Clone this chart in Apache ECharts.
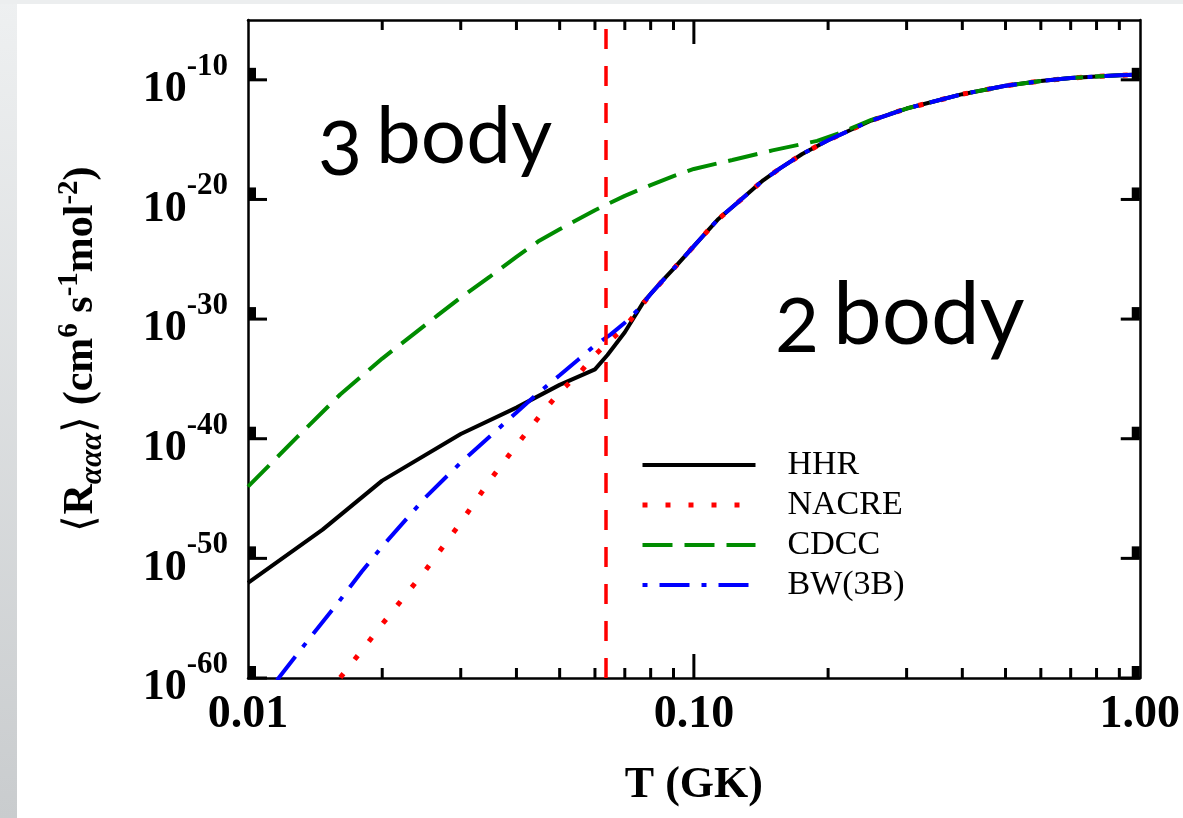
<!DOCTYPE html>
<html>
<head>
<meta charset="utf-8">
<script src="https://cdn.jsdelivr.net/npm/echarts@6/dist/echarts.min.js"></script>
<style>
html,body{margin:0;padding:0;background:#fff;}
#chart{width:1183px;height:818px;}
</style>
</head>
<body>
<div id="chart"></div>
<script>
// temperatures (GK) and log10 of the rate
var hhrT   = [0.01, 0.0147, 0.02, 0.03, 0.04, 0.05, 0.06, 0.064, 0.07, 0.077, 0.084, 0.09, 0.1, 0.113, 0.125, 0.143, 0.156, 0.175, 0.2, 0.25, 0.3, 0.4, 0.5, 0.6, 0.7, 0.8, 0.9, 1.0];
var hhrLog = [-52.05, -47.6, -43.5, -39.6, -37.4, -35.5, -34.2, -33.0, -31.1, -28.6, -27.0, -25.8, -23.9, -21.7, -20.3, -18.4, -17.4, -16.2, -15.05, -13.4, -12.4, -11.2, -10.5, -10.1, -9.85, -9.72, -9.62, -9.55];

var nacreT   = [0.015, 0.016, 0.018, 0.02, 0.025, 0.03, 0.035, 0.04, 0.045, 0.05, 0.055, 0.06, 0.064, 0.07, 0.08, 0.09, 0.1, 0.113, 0.125, 0.143, 0.156, 0.175, 0.2, 0.25, 0.3, 0.4, 0.5, 0.6, 0.7, 0.8, 0.9, 1.0];
var nacreLog = [-61.5, -60.1, -57.7, -55.5, -51.0, -47.0, -43.4, -40.55, -38.15, -36.1, -34.65, -33.0, -32.0, -30.7, -27.9, -25.8, -23.9, -21.7, -20.3, -18.4, -17.4, -16.2, -15.05, -13.4, -12.4, -11.2, -10.5, -10.1, -9.85, -9.72, -9.62, -9.55];

var cdccT   = [0.01, 0.0129, 0.0161, 0.02, 0.0267, 0.03, 0.035, 0.04, 0.045, 0.05, 0.06, 0.07, 0.08, 0.09, 0.1, 0.122, 0.15, 0.189, 0.216, 0.25, 0.3, 0.4, 0.5, 0.6, 0.7, 0.8, 0.9, 1.0];
var cdccLog = [-44.0, -39.85, -36.3, -33.3, -29.65, -28.2, -26.4, -24.8, -23.45, -22.5, -20.9, -19.7, -18.8, -18.05, -17.45, -16.7, -15.9, -15.1, -14.35, -13.35, -12.4, -11.2, -10.5, -10.1, -9.85, -9.72, -9.62, -9.55];

var bwT   = [0.011, 0.012, 0.014, 0.016, 0.018, 0.02, 0.025, 0.03, 0.035, 0.04, 0.045, 0.05, 0.055, 0.06, 0.065, 0.07, 0.075, 0.08, 0.09, 0.1, 0.113, 0.125, 0.143, 0.156, 0.175, 0.2, 0.25, 0.3, 0.4, 0.5, 0.6, 0.7, 0.8, 0.9, 1.0];
var bwLog = [-61.3, -59.5, -56.3, -53.6, -51.1, -49.0, -44.9, -42.0, -39.75, -37.8, -36.1, -34.7, -33.4, -32.2, -31.3, -30.3, -29.2, -27.9, -25.8, -23.9, -21.7, -20.3, -18.4, -17.4, -16.2, -15.05, -13.4, -12.4, -11.2, -10.5, -10.1, -9.85, -9.72, -9.62, -9.55];

var seriesNames = ['HHR', 'NACRE', 'CDCC', 'BW(3B)'];
var boundaryT = 0.0634;

// axis range, tick labels and tick positions
var tRange = [0.01, 1];
var rateRange = [1e-60, 1e-5];
var tLabels = [0.01, 0.1, 1];
var tMajorTicks = [0.1];
var tMinorTicks = [0.02, 0.03, 0.04, 0.05, 0.06, 0.07, 0.08, 0.09, 0.2, 0.3, 0.4, 0.5, 0.6, 0.7, 0.8, 0.9];
var rateTicks = [1e-60, 1e-50, 1e-40, 1e-30, 1e-20, 1e-10];

(function () {
    var serif = '"Liberation Serif", "Times New Roman", serif';
    var tLo = tRange[0], tHi = tRange[1], rLo = rateRange[0], rHi = rateRange[1];

    var styles = {
        'HHR':    { color: '#000',    width: 4, type: 'solid' },
        'NACRE':  { color: '#ff0000', width: 5, type: [5, 18] },
        'CDCC':   { color: '#008c00', width: 4, type: [30, 12] },
        'BW(3B)': { color: '#0000ff', width: 4, type: [5, 12, 30, 12] }
    };

    function pairs(ts, logs) {
        return ts.map(function (t, i) { return [t, Math.pow(10, logs[i])]; });
    }
    function borderLine() {
        return { show: true, onZero: false, lineStyle: { color: '#000', width: 2.5 } };
    }
    function lineSeries(name, ts, logs, extra) {
        var s = styles[name];
        return Object.assign({
            name: name, type: 'line', symbol: 'none', clip: true,
            data: pairs(ts, logs),
            itemStyle: { color: s.color },
            lineStyle: { color: s.color, width: s.width, type: s.type },
            emphasis: { disabled: true }
        }, extra || {});
    }

    var chart = echarts.init(document.getElementById('chart'));

    var option = {
        backgroundColor: '#fff',
        animation: false,
        grid: { left: 248, right: 43, top: 20, bottom: 140, containLabel: false },
        legend: {
            data: seriesNames.map(function (n) {
                var s = styles[n];
                return { name: n, lineStyle: { color: s.color, width: s.width, type: s.type } };
            }),
            orient: 'vertical',
            left: 640,
            top: 447,
            padding: 0,
            itemWidth: 113,
            itemHeight: 14,
            itemGap: 4,
            selectedMode: false,
            itemStyle: { color: 'rgba(0,0,0,0)', borderColor: 'rgba(0,0,0,0)', borderWidth: 0 },
            textStyle: { fontFamily: serif, fontSize: 34, color: '#000', lineHeight: 36, padding: [0, 0, 0, 27] }
        },
        xAxis: [
            {
                type: 'log', logBase: 10, min: tLo, max: tHi,
                position: 'bottom',
                splitLine: { show: false },
                axisLine: borderLine(),
                axisTick: { show: false, customValues: tLabels },
                name: 'T (GK)',
                nameLocation: 'middle',
                nameGap: 86,
                nameTextStyle: { fontFamily: serif, fontWeight: 'bold', fontSize: 44, color: '#000' },
                axisLabel: {
                    margin: 14,
                    customValues: tLabels,
                    fontFamily: serif, fontWeight: 'bold', fontSize: 46, color: '#000',
                    formatter: function (v) { return v.toFixed(2); }
                }
            },
            {
                type: 'log', logBase: 10, min: tLo, max: tHi,
                position: 'top',
                splitLine: { show: false },
                axisLine: borderLine(),
                axisTick: { show: false, customValues: tLabels },
                axisLabel: { show: false, customValues: tLabels }
            }
        ],
        yAxis: [
            {
                type: 'log', logBase: 10, min: rLo, max: rHi,
                position: 'left',
                splitLine: { show: false },
                axisLine: borderLine(),
                axisTick: { show: false, customValues: rateTicks },
                name: '{a|\u27e8}{b|R}{sub|\u03b1\u03b1\u03b1}{a|\u27e9}{b| (cm}{sup|6}{b| s}{sup|-1}{b|mol}{sup|-2}{b|)}',
                nameLocation: 'middle',
                nameGap: 140,
                nameTextStyle: {
                    color: '#000',
                    rich: {
                        a: { fontFamily: serif, fontSize: 43, color: '#000' },
                        b: { fontFamily: serif, fontSize: 42, fontWeight: 'bold', color: '#000' },
                        sub: { fontFamily: serif, fontSize: 31, fontStyle: 'italic', fontWeight: 'bold', color: '#000', padding: [22, 0, 0, 0] },
                        sup: { fontFamily: serif, fontSize: 29, fontWeight: 'bold', color: '#000', padding: [0, 0, 24, 0] }
                    }
                },
                axisLabel: {
                    margin: 20,
                    customValues: rateTicks,
                    formatter: function (v) {
                        return '{b|10}{s|' + Math.round(Math.log10(v)) + '}';
                    },
                    rich: {
                        b: { fontFamily: serif, fontSize: 44, fontWeight: 'bold', color: '#000', padding: [20, 0, 0, 0] },
                        s: { fontFamily: serif, fontSize: 31, fontWeight: 'bold', color: '#000', padding: [0, 0, 26, 0] }
                    }
                }
            },
            {
                type: 'log', logBase: 10, min: rLo, max: rHi,
                position: 'right',
                splitLine: { show: false },
                axisLine: borderLine(),
                axisTick: { show: false, customValues: rateTicks },
                axisLabel: { show: false, customValues: rateTicks }
            }
        ],
        graphic: [
            {
                type: 'rect', left: 0, top: 0, z: -10,
                shape: { width: 17, height: 818 },
                style: { fill: new echarts.graphic.LinearGradient(0, 0, 0, 1, [{ offset: 0, color: '#eef0f1' }, { offset: 1, color: '#c9ccce' }]) }
            },
            { type: 'rect', left: 0, top: 0, z: -10, shape: { width: 1183, height: 4 }, style: { fill: '#eceeef' } },
            { type: 'text', x: 318, y: 150, style: { text: '3', font: '76px Lato', fill: '#000', verticalAlign: 'middle' } },
            { type: 'text', x: 376, y: 137, style: { text: 'body', font: '80px Lato', fill: '#000', verticalAlign: 'middle' } },
            { type: 'text', x: 775, y: 327, style: { text: '2', font: '76px Lato', fill: '#000', verticalAlign: 'middle' } },
            { type: 'text', x: 833, y: 316, style: { text: 'body', font: '87px Lato', fill: '#000', verticalAlign: 'middle' } }
        ],
        series: [
            lineSeries('HHR', hhrT, hhrLog, {
                markLine: {
                    silent: true, symbol: ['none', 'none'], label: { show: false },
                    lineStyle: { color: '#ff0000', width: 3.5, type: [20, 17] },
                    emphasis: { disabled: true },
                    data: [[{ coord: [boundaryT, rLo] }, { coord: [boundaryT, rHi] }]]
                }
            }),
            lineSeries('NACRE', nacreT, nacreLog),
            lineSeries('CDCC', cdccT, cdccLog),
            lineSeries('BW(3B)', bwT, bwLog),
            {
                // T ticks on the bottom and top frame
                type: 'custom', silent: true, z: 5,
                encode: { x: 0, y: 1 },
                data: tMinorTicks.concat(tMajorTicks).map(function (v) { return [v, rLo]; }),
                renderItem: function (params, api) {
                    var v = api.value(0);
                    var len = tMajorTicks.indexOf(v) >= 0 ? 24 : 10;
                    var b = api.coord([v, rLo]);
                    var t = api.coord([v, rHi]);
                    return {
                        type: 'group',
                        children: [
                            { type: 'rect', shape: { x: b[0] - 1.5, y: b[1] - len, width: 3, height: len }, style: { fill: '#000' } },
                            { type: 'rect', shape: { x: t[0] - 1.5, y: t[1], width: 3, height: len }, style: { fill: '#000' } }
                        ]
                    };
                }
            },
            {
                // rate ticks on the left and right frame
                type: 'custom', silent: true, z: 5,
                encode: { x: 0, y: 1 },
                data: rateTicks.map(function (v) { return [tLo, v]; }),
                renderItem: function (params, api) {
                    var v = api.value(1);
                    var l = api.coord([tLo, v]);
                    var r = api.coord([tHi, v]);
                    return {
                        type: 'group',
                        children: [
                            { type: 'rect', shape: { x: l[0], y: l[1] - 1.5, width: 19, height: 3 }, style: { fill: '#000' } },
                            { type: 'rect', shape: { x: l[0], y: l[1] - 12, width: 8, height: 12 }, style: { fill: '#000' } },
                            { type: 'rect', shape: { x: r[0] - 19, y: r[1] - 1.5, width: 19, height: 3 }, style: { fill: '#000' } },
                            { type: 'rect', shape: { x: r[0] - 8, y: r[1] - 12, width: 8, height: 12 }, style: { fill: '#000' } }
                        ]
                    };
                }
            }
        ]
    };

    chart.setOption(option);
})();
</script>
</body>
</html>
